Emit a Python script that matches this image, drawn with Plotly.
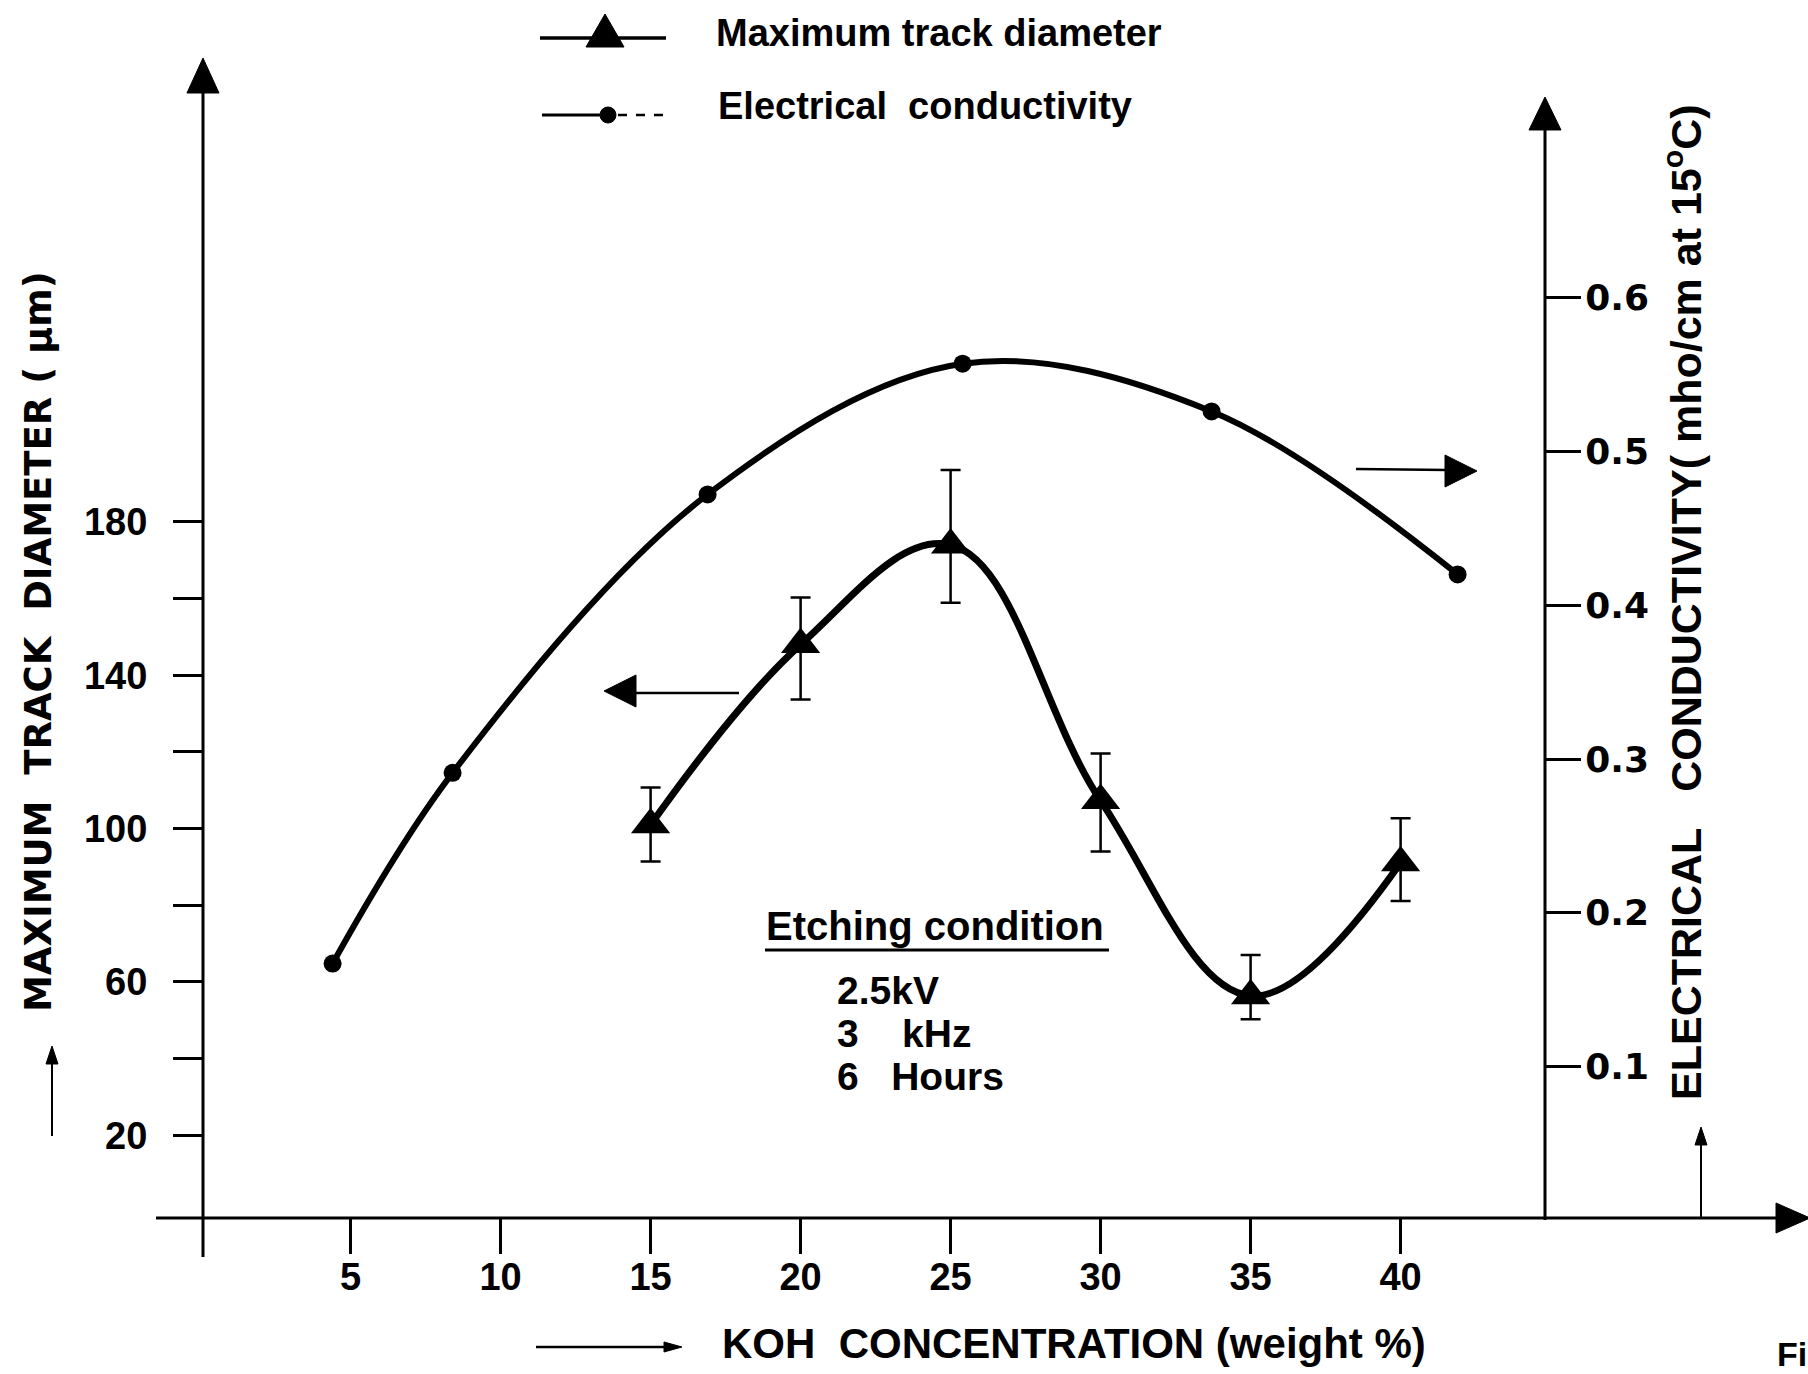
import plotly.graph_objects as go

# ---------------- data ----------------
koh_track = [15, 20, 25, 30, 35, 40]                 # KOH concentration (weight %)
track_diam = [101, 148, 174, 107.3, 56.4, 91.1]      # maximum track diameter (um)
track_err_plus = [9.7, 12.3, 19.5, 12.3, 10.6, 11.6]
track_err_minus = [9.6, 14.3, 15.1, 13.3, 6.1, 10.0]

koh_cond = [4.4, 8.4, 16.9, 25.4, 33.7, 41.9]        # KOH concentration (weight %)
conductivity = [0.167, 0.291, 0.472, 0.557, 0.526, 0.420]  # mho/cm at 15 C

x_ticks = [5, 10, 15, 20, 25, 30, 35, 40]
y_ticks = [20, 60, 100, 140, 180]
y_minor_ticks = [40, 80, 120, 160]
y2_ticks = [0.1, 0.2, 0.3, 0.4, 0.5, 0.6]
y2_ticklabels = ["0.1", "0.2", "0.3", "0.4", "0.5", "0.6"]

# ---------------- layout helpers ----------------
W, H = 1808, 1374
SANS = "Liberation Sans, Arial, sans-serif"
DEJAVU = "DejaVu Sans, Liberation Sans, sans-serif"


def px(x):
    return x / W


def py(y):
    return 1 - y / H


def seg(x0, y0, x1, y1, w=3, dash="solid"):
    return dict(type="line", xref="paper", yref="paper",
                x0=px(x0), y0=py(y0), x1=px(x1), y1=py(y1),
                line=dict(color="black", width=w, dash=dash), layer="above")


def tri(points):
    d = "M " + " L ".join(f"{px(a):.6f},{py(b):.6f}" for a, b in points) + " Z"
    return dict(type="path", xref="paper", yref="paper", path=d,
                fillcolor="black", line=dict(color="black", width=1), layer="above")


def txt(x, y, s, font, size, xanchor="left", yanchor="middle", angle=0, weight="bold"):
    return dict(x=px(x), y=py(y), xref="paper", yref="paper", text=s, showarrow=False,
                xanchor=xanchor, yanchor=yanchor, textangle=angle, borderpad=0,
                font=dict(family=font, size=size, color="black", weight=weight))


fig = go.Figure()

fig.add_trace(go.Scatter(
    x=koh_track, y=track_diam, yaxis="y", mode="lines+markers",
    line=dict(color="black", width=7, shape="spline", smoothing=1.1),
    marker=dict(symbol="triangle-up", size=34, color="black"),
    error_y=dict(type="data", symmetric=False, array=track_err_plus,
                 arrayminus=track_err_minus, color="black", thickness=2.5, width=10),
    showlegend=False, name="Maximum track diameter"))

fig.add_trace(go.Scatter(
    x=koh_cond, y=conductivity, yaxis="y2", mode="lines+markers",
    line=dict(color="black", width=6, shape="spline", smoothing=1.0),
    marker=dict(symbol="circle", size=18, color="black"),
    showlegend=False, name="Electrical conductivity"))

x0_px, x_scale = 200.6, 30.0
y0_px, y_scale = 1212.0, 3.834
y20_px, y2_scale = 1220.4, 1538.0
xaxis_y = 1218

shapes = [
    # left axis with arrow
    seg(203, 90, 203, 1257, 3), tri([(203, 58), (187, 93), (219, 93)]),
    # right axis with arrow
    seg(1545, 126, 1545, 1220, 3), tri([(1545, 97), (1529, 130), (1561, 130)]),
    # x axis with arrow
    seg(156, xaxis_y, 1780, xaxis_y, 3), tri([(1810, xaxis_y), (1776, xaxis_y - 15), (1776, xaxis_y + 15)]),
    # small arrows beside titles
    seg(52, 1136, 52, 1060, 2), tri([(52, 1046), (46, 1064), (58, 1064)]),
    seg(1701, xaxis_y, 1701, 1142, 2), tri([(1701, 1127), (1695, 1145), (1707, 1145)]),
    seg(536, 1347, 668, 1347, 2.5), tri([(682, 1347), (664, 1342), (664, 1352)]),
    # curve-to-axis arrows
    seg(632, 693, 739, 693, 2.5), tri([(604, 691), (636, 675), (636, 707)]),
    seg(1356, 469, 1448, 470, 2.5), tri([(1477, 471), (1445, 455), (1445, 487)]),
    # legend keys
    seg(540, 38, 666, 38, 3.5), tri([(605, 14), (586, 47), (624, 47)]),
    seg(542, 115, 600, 115, 3),
    dict(type="circle", xref="paper", yref="paper", x0=px(600), x1=px(616), y0=py(107), y1=py(123),
         fillcolor="black", line=dict(color="black", width=1), layer="above"),
    seg(618, 115, 668, 115, 2.5, dash="dash"),
    # underline of the etching condition heading
    seg(765, 950, 1109, 950, 3),
]

annotations = [
    txt(715, 33, "Maximum track diameter", SANS, 38),
    txt(717, 106, "Electrical  conductivity", SANS, 38),
    txt(765, 926, "Etching condition", SANS, 40),
    txt(836, 990, "2.5kV", SANS, 39),
    txt(836, 1033, "3\u00a0\u00a0\u00a0\u00a0kHz", SANS, 39),
    txt(836, 1076, "6\u00a0\u00a0\u00a0Hours", SANS, 39),
    txt(38, 642, "MAXIMUM\u00a0\u00a0TRACK\u00a0\u00a0DIAMETER ( \u03bcm)", DEJAVU, 37,
        xanchor="center", angle=-90),
    txt(1683, 602, "ELECTRICAL\u00a0\u00a0 CONDUCTIVITY( mho/cm at 15<sup>o</sup>C)", SANS, 43,
        xanchor="center", angle=-90),
    txt(721, 1343, "KOH\u00a0\u00a0CONCENTRATION (weight %)", SANS, 42),
    txt(1808, 1374, "Fi", SANS, 34, xanchor="right", yanchor="bottom"),
]

fig.update_layout(
    width=W, height=H,
    margin=dict(l=0, r=0, t=0, b=0),
    paper_bgcolor="white", plot_bgcolor="white",
    showlegend=False,
    xaxis=dict(range=[-x0_px / x_scale, (W - x0_px) / x_scale],
               tickmode="array", tickvals=x_ticks, ticktext=[str(v) for v in x_ticks],
               ticks="outside", ticklen=35, tickwidth=2.5, tickcolor="black",
               tickfont=dict(family=SANS, size=38, color="black", weight="bold"),
               ticklabelstandoff=-10,
               showline=False, showgrid=False, zeroline=False,
               anchor="free", position=1 - xaxis_y / H),
    yaxis=dict(range=[-(H - y0_px) / y_scale, y0_px / y_scale],
               tickmode="array", tickvals=y_ticks, ticktext=[str(v) for v in y_ticks],
               ticks="outside", ticklen=30, tickwidth=2.5, tickcolor="black",
               minor=dict(tickmode="array", tickvals=y_minor_ticks, ticks="outside",
                          ticklen=30, tickwidth=2.5, tickcolor="black", showgrid=False),
               tickfont=dict(family=SANS, size=38, color="black", weight="bold"),
               ticklabelstandoff=18,
               showline=False, showgrid=False, zeroline=False,
               anchor="free", position=203 / W),
    yaxis2=dict(range=[-(H - y20_px) / y2_scale, y20_px / y2_scale],
                overlaying="y", side="right",
                tickmode="array", tickvals=y2_ticks, ticktext=y2_ticklabels,
                ticks="outside", ticklen=35, tickwidth=2.5, tickcolor="black",
                tickfont=dict(family=DEJAVU, size=36, color="black", weight="bold"),
                ticklabelstandoff=-3,
                showline=False, showgrid=False, zeroline=False,
                anchor="free", position=1545 / W),
    shapes=shapes,
    annotations=annotations,
)

fig.write_html("out.html")
